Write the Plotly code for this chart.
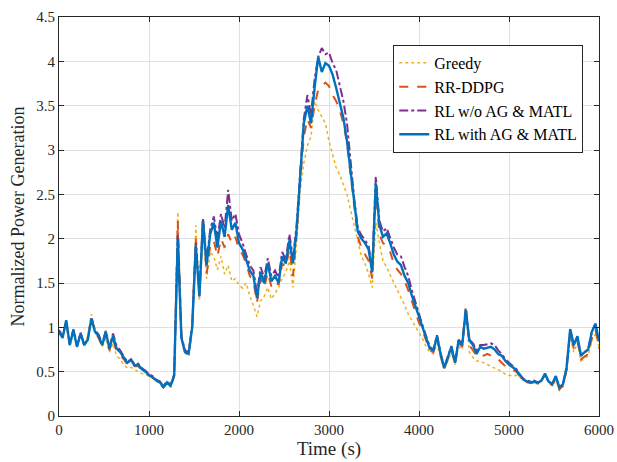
import plotly.graph_objects as go

time_s = list(range(0, 6001, 40))

greedy = [0.93,0.90,1.00,0.82,0.95,0.80,0.93,0.82,0.90,1.15,0.95,0.88,0.78,0.88,0.72,0.82,0.68,0.64,0.58,0.54,
0.55,0.52,0.50,0.48,0.47,0.45,0.43,0.40,0.37,0.31,0.36,0.33,0.44,2.30,0.90,0.72,0.70,1.05,2.15,1.30,
2.05,1.55,1.85,1.80,1.65,1.80,1.60,1.70,1.52,1.55,1.48,1.44,1.50,1.35,1.25,1.12,1.30,1.35,1.45,1.32,
1.38,1.45,1.55,1.62,1.75,1.45,1.95,2.55,2.85,3.05,3.15,3.55,3.45,3.38,3.30,3.10,2.95,2.80,2.72,2.62,
2.50,2.32,2.15,2.00,1.80,1.72,1.60,1.45,2.18,1.95,1.75,1.68,1.58,1.50,1.42,1.34,1.25,1.15,1.08,1.02,
0.95,0.87,0.78,0.72,0.70,0.82,0.66,0.52,0.62,0.72,0.58,0.78,0.75,1.15,0.72,0.66,0.62,0.62,0.60,0.58,
0.56,0.54,0.52,0.50,0.47,0.46,0.45,0.46,0.44,0.40,0.38,0.37,0.38,0.36,0.39,0.46,0.37,0.34,0.40,0.29,
0.33,0.50,0.90,0.72,0.82,0.62,0.65,0.68,0.85,0.92,0.78]

rr_ddpg = [0.96,0.90,1.05,0.80,0.96,0.80,0.92,0.80,0.88,1.12,0.95,0.88,0.79,0.92,0.74,0.87,0.73,0.69,0.64,0.58,
0.61,0.56,0.56,0.52,0.49,0.45,0.43,0.40,0.37,0.32,0.37,0.33,0.45,2.20,0.90,0.72,0.68,1.00,2.00,1.35,
2.25,1.60,1.92,1.98,1.80,2.00,1.90,2.05,1.95,2.02,1.88,1.82,1.72,1.58,1.52,1.28,1.55,1.45,1.62,1.46,
1.52,1.48,1.72,1.68,1.88,1.58,2.05,2.65,3.15,3.35,3.25,3.50,3.68,3.72,3.76,3.72,3.62,3.55,3.45,3.30,
3.08,2.72,2.35,2.02,1.90,1.82,1.75,1.55,2.55,2.05,1.95,1.92,1.85,1.72,1.65,1.60,1.52,1.42,1.30,1.18,
1.05,0.96,0.85,0.74,0.72,0.88,0.68,0.53,0.64,0.76,0.58,0.82,0.78,1.25,0.80,0.74,0.68,0.70,0.68,0.70,
0.68,0.66,0.64,0.60,0.56,0.54,0.52,0.50,0.45,0.40,0.38,0.37,0.38,0.36,0.39,0.47,0.38,0.35,0.43,0.30,
0.34,0.52,0.95,0.76,0.85,0.64,0.67,0.70,0.88,0.98,0.76]

rl_wo = [0.97,0.90,1.06,0.81,0.98,0.79,0.94,0.81,0.87,1.10,0.97,0.92,0.82,0.96,0.78,0.93,0.79,0.74,0.67,0.61,
0.64,0.58,0.59,0.54,0.51,0.47,0.45,0.41,0.39,0.34,0.39,0.35,0.47,2.05,0.90,0.74,0.72,1.02,1.95,1.38,
2.22,1.75,2.10,2.25,2.00,2.28,2.12,2.55,2.20,2.28,2.05,1.95,1.82,1.70,1.64,1.38,1.68,1.56,1.78,1.58,
1.64,1.56,1.85,1.76,2.05,1.78,2.15,2.75,3.35,3.62,3.40,3.80,4.05,4.15,4.08,4.10,3.98,3.90,3.72,3.55,
3.30,2.85,2.45,2.12,2.04,1.98,1.92,1.65,2.70,2.20,2.08,2.12,2.00,1.90,1.82,1.80,1.68,1.58,1.42,1.28,
1.14,1.02,0.90,0.78,0.75,0.91,0.71,0.55,0.67,0.79,0.61,0.86,0.81,1.18,0.86,0.82,0.74,0.80,0.80,0.81,
0.82,0.80,0.74,0.70,0.64,0.60,0.56,0.53,0.47,0.42,0.40,0.39,0.40,0.38,0.40,0.47,0.39,0.36,0.44,0.32,
0.36,0.54,0.97,0.80,0.89,0.68,0.72,0.75,0.95,1.04,0.84]

rl_with = [0.95,0.88,1.08,0.80,0.97,0.78,0.93,0.80,0.86,1.10,0.95,0.90,0.80,0.95,0.76,0.90,0.76,0.72,0.66,0.60,
0.63,0.57,0.58,0.53,0.50,0.46,0.44,0.40,0.38,0.33,0.38,0.34,0.46,2.00,0.88,0.72,0.70,1.00,1.92,1.35,
2.20,1.70,2.05,2.18,1.90,2.20,2.02,2.38,2.10,2.18,1.95,1.88,1.76,1.64,1.58,1.33,1.62,1.50,1.72,1.52,
1.58,1.50,1.80,1.72,1.98,1.72,2.10,2.70,3.30,3.50,3.30,3.70,4.05,3.88,3.98,3.95,3.85,3.70,3.52,3.36,
3.10,2.75,2.38,2.08,2.00,1.95,1.88,1.62,2.62,2.15,2.02,2.06,1.95,1.82,1.74,1.70,1.58,1.50,1.36,1.24,
1.10,1.00,0.88,0.76,0.74,0.90,0.70,0.54,0.66,0.78,0.60,0.85,0.80,1.20,0.85,0.80,0.70,0.78,0.76,0.77,
0.78,0.75,0.70,0.68,0.62,0.58,0.55,0.52,0.46,0.41,0.39,0.38,0.39,0.37,0.40,0.48,0.39,0.36,0.45,0.32,
0.36,0.55,0.98,0.80,0.90,0.68,0.72,0.75,0.95,1.04,0.85]

names = ["Greedy", "RR-DDPG", "RL w/o AG &amp; MATL", "RL with AG &amp; MATL"]
colors = ["#EDB120", "#D95319", "#7E2F8E", "#0072BD"]
dashes = ["dot", "dash", "dashdot", "solid"]
widths = [1.5, 2.0, 2.0, 2.4]
series = [greedy, rr_ddpg, rl_wo, rl_with]

FONT = "Liberation Serif"

fig = go.Figure()
for nm, col, ds, w, ys in zip(names, colors, dashes, widths, series):
    fig.add_trace(go.Scatter(x=time_s, y=ys, mode="lines", name=nm,
                             line=dict(color=col, dash=ds, width=w)))

axis_common = dict(showline=True, linecolor="#262626", linewidth=1, mirror="ticks",
                   ticks="inside", ticklen=5, tickcolor="#262626",
                   showgrid=True, gridcolor="#e0e0e0", gridwidth=1, zeroline=False,
                   automargin=False,
                   tickfont=dict(family=FONT, size=15, color="#262626"))

fig.update_layout(
    width=617, height=462,
    margin=dict(l=59, r=18, t=17, b=46, autoexpand=False),
    paper_bgcolor="white", plot_bgcolor="white",
    font=dict(family=FONT, color="#262626"),
    xaxis=dict(range=[0, 6000], tickvals=[0, 1000, 2000, 3000, 4000, 5000, 6000],
               title=dict(text="Time (s)", font=dict(family=FONT, size=19), standoff=4), **axis_common),
    yaxis=dict(range=[0, 4.5], tickvals=[0, 0.5, 1, 1.5, 2, 2.5, 3, 3.5, 4, 4.5],
               ticktext=["0", "0.5", "1", "1.5", "2", "2.5", "3", "3.5", "4", "4.5"],
               title=dict(text="Normalized Power Generation", font=dict(family=FONT, size=18), standoff=6),
               **axis_common),
    legend=dict(x=0.619, y=0.93, xanchor="left", yanchor="top",
                bgcolor="white", bordercolor="#262626", borderwidth=1,
                font=dict(family=FONT, size=16, color="#000000"),
                tracegroupgap=0, itemwidth=30),
    showlegend=True,
)

fig.write_html("out.html")
